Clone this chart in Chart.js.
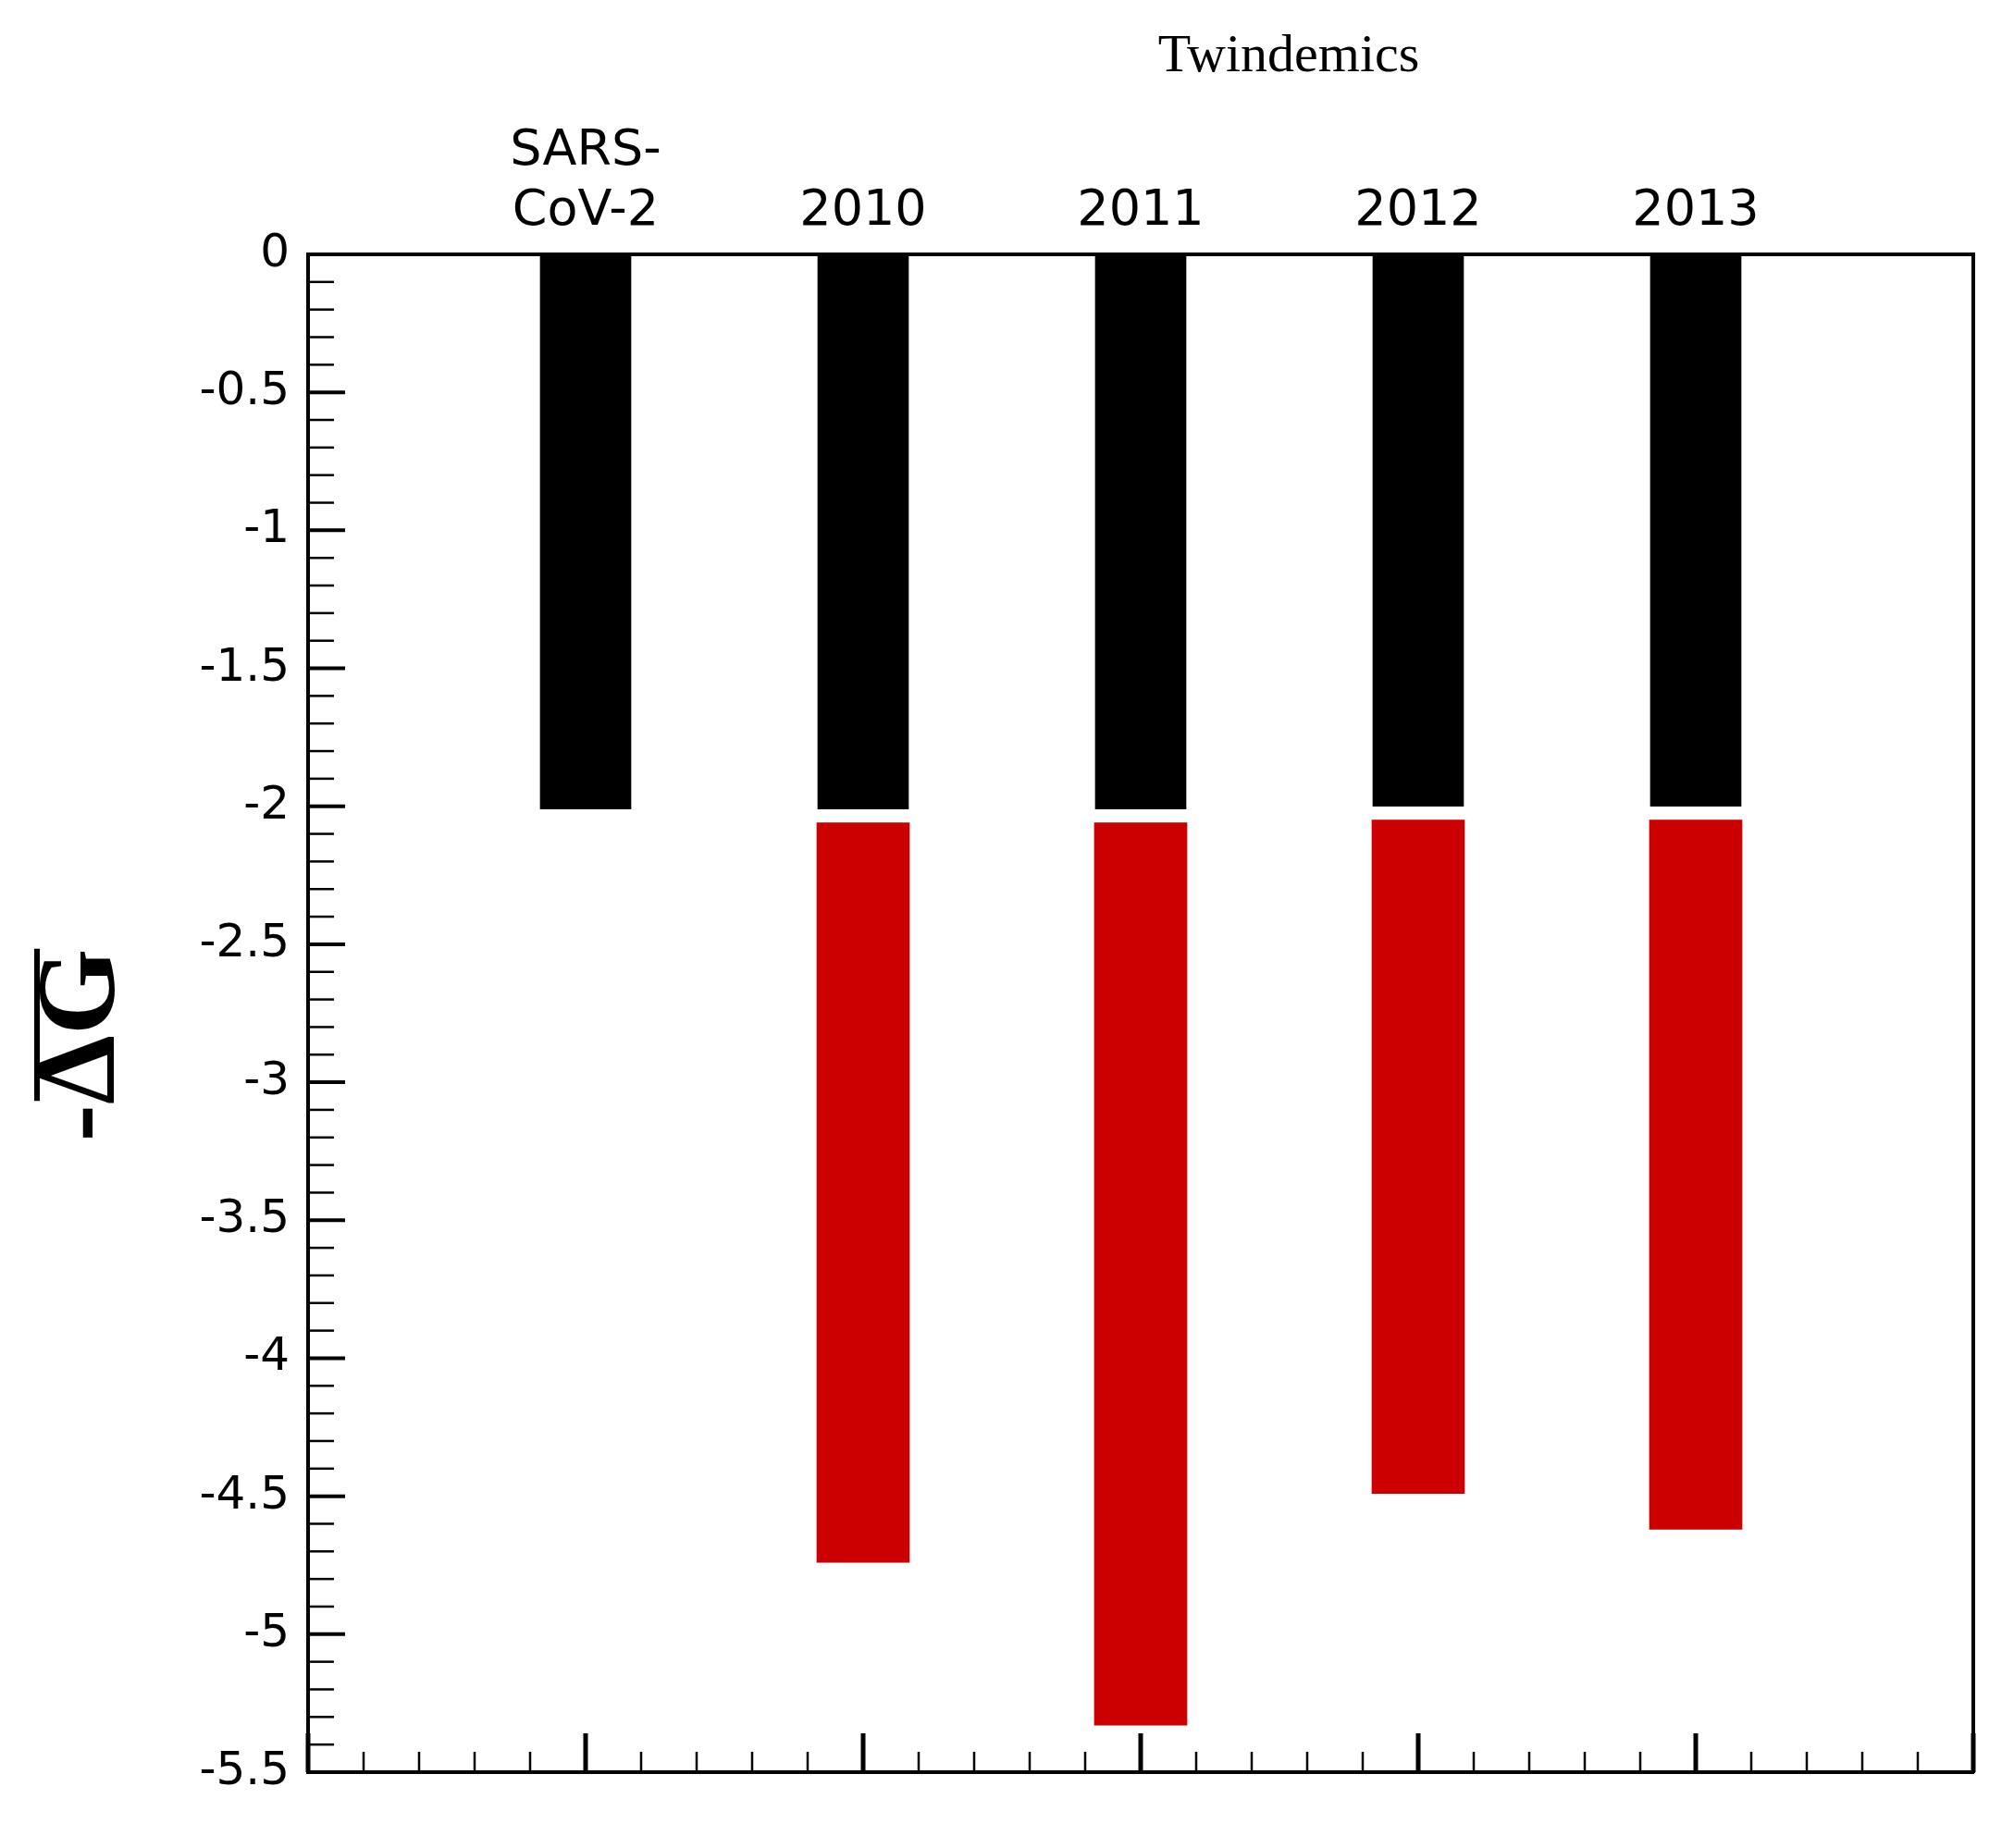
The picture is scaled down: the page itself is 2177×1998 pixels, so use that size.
<!DOCTYPE html>
<html><head><meta charset="utf-8">
<script src="https://cdn.jsdelivr.net/npm/chart.js@4/dist/chart.umd.min.js"></script>
<style>html,body{margin:0;padding:0;background:#fff}#w{width:2177px;height:1998px}</style>
</head><body><div id="w"><canvas id="c"></canvas></div>
<script>
const categories = ['', ['SARS-','CoV-2'], '2010', '2011', '2012', '2013', ''];
const blackStart = [null, 0, 0, 0, 0, 0, null];
const blackEnd   = [null, -2.01, -2.01, -2.01, -2.0, -2.0, null];
const redStart   = [null, null, -2.06, -2.06, -2.05, -2.05, null];
const redEnd     = [null, null, -4.74, -5.33, -4.49, -4.62, null];
const yTicks = [0,-0.5,-1,-1.5,-2,-2.5,-3,-3.5,-4,-4.5,-5,-5.5];

const mk = (a,b)=>a.map((v,i)=>v===null||b[i]===null?null:[v,b[i]]);
const tickFont = {family:'DejaVu Sans', size:50};
const deco = {
  id:'deco',
  afterDraw(ch){
    const c=ch.ctx, x=ch.scales.x, y=ch.scales.y, a=ch.chartArea;
    c.save(); c.strokeStyle='#000';
    for(let k=0;k<=55;k++){
      const v=-k/10, py=y.getPixelForValue(v), major=k%5===0;
      c.lineWidth=major?4:2.5;
      c.beginPath(); c.moveTo(a.left,py); c.lineTo(a.left+(major?40:28),py); c.stroke();
    }
    for(let k=0;k<=30;k++){
      const v=k/5, px=x.left+(x.right-x.left)*v/6, major=k%5===0;
      c.lineWidth=major?5:2.5;
      c.beginPath(); c.moveTo(px,a.bottom); c.lineTo(px,a.bottom-(major?42:22)); c.stroke();
    }
    c.fillStyle='#000'; c.font='58px "Liberation Serif"'; c.textAlign='center'; c.textBaseline='middle';
    c.fillText('Twindemics', (x.getPixelForValue(3)+x.getPixelForValue(4))/2+10, 62);
    c.translate(92,1130); c.rotate(-Math.PI/2);
    c.font='bold 120px "Liberation Serif"';
    c.fillText('-ΔG',0,0);
    const w=c.measureText('-ΔG').width, wm=c.measureText('-').width;
    c.lineWidth=6; c.beginPath(); c.moveTo(-w/2+wm+4,-52); c.lineTo(w/2,-52); c.stroke();
    c.restore();
  }
};
new Chart(document.getElementById('c'),{
  type:'bar',
  data:{labels:categories,datasets:[
    {data:mk(blackStart,blackEnd),backgroundColor:'#000',barThickness:98,grouped:false},
    {data:mk(redStart,redEnd),backgroundColor:'#cc0000',barThickness:100,grouped:false}
  ]},
  options:{responsive:true,maintainAspectRatio:false,animation:false,
    layout:{padding:{left:0,right:44,top:0,bottom:82}},
    plugins:{legend:{display:false},tooltip:{enabled:false}},
    scales:{
      x:{position:'top',offset:false,grid:{display:false,drawTicks:false},
        border:{display:true,color:'#000',width:4},
        ticks:{color:'#000',font:{family:'DejaVu Sans',size:54},padding:14,maxRotation:0,autoSkip:false},
        afterFit(s){s.height=275;}},
      y:{min:-5.5,max:0,reverse:false,grid:{display:false,drawTicks:false},
        border:{display:true,color:'#000',width:4},
        afterBuildTicks(s){s.ticks=yTicks.map(v=>({value:v}));},
        ticks:{color:'#000',font:tickFont,padding:20,callback:v=>String(v)},
        afterFit(s){s.width=333;}},
      x2:{position:'bottom',type:'linear',min:0,max:6,display:true,grid:{display:false,drawTicks:false},
        ticks:{display:false},border:{display:true,color:'#000',width:4},afterFit(s){s.height=0;}},
      y2:{position:'right',min:-5.5,max:0,grid:{display:false,drawTicks:false},ticks:{display:false},
        border:{display:true,color:'#000',width:4},afterFit(s){s.width=0;}}
    }
  },
  plugins:[deco]
});
</script></body></html>
